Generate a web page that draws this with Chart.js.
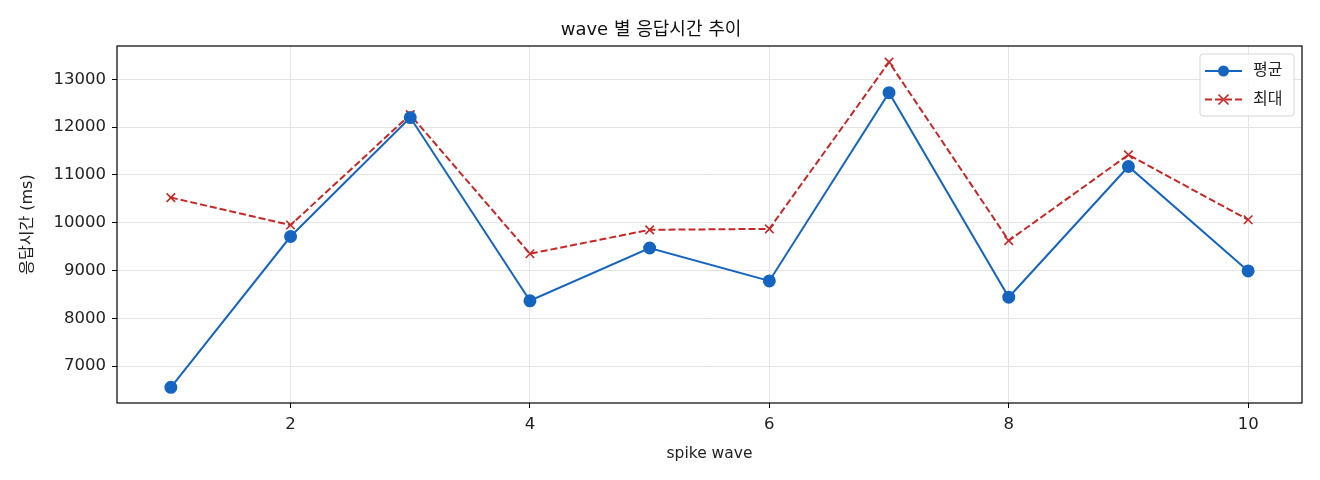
<!DOCTYPE html>
<html>
<head>
<meta charset="utf-8">
<script src="https://cdn.jsdelivr.net/npm/chart.js@4.4.1/dist/chart.umd.min.js"></script>
<style>
  html, body { margin: 0; padding: 0; background: #fff; }
  #wrap { width: 1320px; height: 480px; }
</style>
</head>
<body>
<div id="wrap"><canvas id="resp"></canvas></div>
<script>
const waves = [1, 2, 3, 4, 5, 6, 7, 8, 9, 10]
const avgMs = [6555, 9710, 12200, 8365, 9470, 8780, 12720, 8440, 11175, 8990]
const maxMs = [10525, 9950, 12260, 9350, 9850, 9870, 13360, 9625, 11420, 10060]
const xTicks = [2, 4, 6, 8, 10]
const yTicks = [7000, 8000, 9000, 10000, 11000, 12000, 13000]

const FONT = "'DejaVu Sans', 'Noto Sans CJK KR', sans-serif"

// black frame + legend box inside plot area, like the source figure
const frameAndLegend = {
    id: 'frameAndLegend',
    afterDatasetsDraw(chart) {
        const { ctx, chartArea: a } = chart
        ctx.save()
        ctx.strokeStyle = '#000'
        ctx.lineWidth = 1.2
        ctx.strokeRect(a.left, a.top, a.right - a.left, a.bottom - a.top)

        const bx = a.right - 102, by = a.top + 8, bw = 94, bh = 62
        ctx.fillStyle = 'rgba(255,255,255,0.85)'
        ctx.strokeStyle = '#d6d6d6'
        ctx.lineWidth = 1
        ctx.beginPath()
        ctx.roundRect(bx, by, bw, bh, 3)
        ctx.fill()
        ctx.stroke()

        chart.data.datasets.forEach((ds, i) => {
            const y = by + 17 + i * 28.5
            const x0 = bx + 5, x1 = bx + 42
            ctx.strokeStyle = ds.borderColor
            ctx.lineWidth = 2
            ctx.setLineDash(ds.borderDash || [])
            ctx.beginPath()
            ctx.moveTo(x0, y)
            ctx.lineTo(x1, y)
            ctx.stroke()
            ctx.setLineDash([])
            const cx = (x0 + x1) / 2
            if (ds.pointStyle === 'circle') {
                ctx.fillStyle = ds.pointBackgroundColor
                ctx.beginPath()
                ctx.arc(cx, y, 5.5, 0, Math.PI * 2)
                ctx.fill()
            } else {
                ctx.lineWidth = 1.6
                ctx.beginPath()
                ctx.moveTo(cx - 5, y - 5); ctx.lineTo(cx + 5, y + 5)
                ctx.moveTo(cx + 5, y - 5); ctx.lineTo(cx - 5, y + 5)
                ctx.stroke()
            }
            ctx.fillStyle = '#222'
            ctx.font = '16px ' + FONT
            ctx.textBaseline = 'middle'
            ctx.fillText(ds.label, bx + 53, y)
        })
        ctx.restore()
    }
}

const respChart = document.getElementById('resp').getContext('2d')
const resp = new Chart(respChart, {
    type: 'line',
    data: {
        datasets: [{
            label: '평균',
            data: waves.map((w, i) => ({ x: w, y: avgMs[i] })),
            borderColor: '#1565c0',
            backgroundColor: '#1565c0',
            pointBackgroundColor: '#1565c0',
            pointBorderColor: '#1565c0',
            pointStyle: 'circle',
            pointRadius: 5.5,
            borderWidth: 2
        }, {
            label: '최대',
            data: waves.map((w, i) => ({ x: w, y: maxMs[i] })),
            borderColor: '#c62828',
            backgroundColor: '#c62828',
            pointBorderColor: '#c62828',
            pointBackgroundColor: '#c62828',
            pointStyle: 'crossRot',
            pointRadius: 6,
            pointBorderWidth: 1.6,
            borderDash: [7, 3],
            borderWidth: 2
        }]
    },
    options: {
        responsive: true,
        maintainAspectRatio: false,
        animation: false,
        layout: { padding: { left: 0, right: 18, top: 0, bottom: 0 } },
        scales: {
            x: {
                type: 'linear',
                min: 0.55,
                max: 10.45,
                afterBuildTicks: s => { s.ticks = xTicks.map(v => ({ value: v })) },
                afterFit: s => { s.height = 77 },
                grid: { color: '#e4e4e4', tickColor: '#000', tickLength: 5 },
                border: { display: false },
                ticks: { color: '#222', font: { family: FONT, size: 16.5 }, padding: 7, maxRotation: 0,
                         callback: v => String(v) },
                title: { display: true, text: 'spike wave', color: '#222',
                         font: { family: FONT, size: 15.5 }, padding: { top: 0, bottom: 17 } }
            },
            y: {
                min: 6226,
                max: 13697,
                afterBuildTicks: s => { s.ticks = yTicks.map(v => ({ value: v })) },
                afterFit: s => { s.width = 117 },
                grid: { color: '#e4e4e4', tickColor: '#000', tickLength: 5 },
                border: { display: false },
                ticks: { color: '#222', font: { family: FONT, size: 16.5 }, padding: 6,
                         callback: v => String(v) },
                title: { display: true, text: '응답시간 (ms)', color: '#222',
                         font: { family: FONT, size: 16 }, padding: { top: 18, bottom: 0 } }
            }
        },
        plugins: {
            legend: { display: false },
            tooltip: { enabled: false },
            title: {
                display: true,
                text: 'wave 별 응답시간 추이',
                color: '#111',
                font: { family: FONT, size: 18, weight: 'normal' },
                padding: { top: 20, bottom: 4.4 }
            }
        }
    },
    plugins: [frameAndLegend]
})
</script>
</body>
</html>
